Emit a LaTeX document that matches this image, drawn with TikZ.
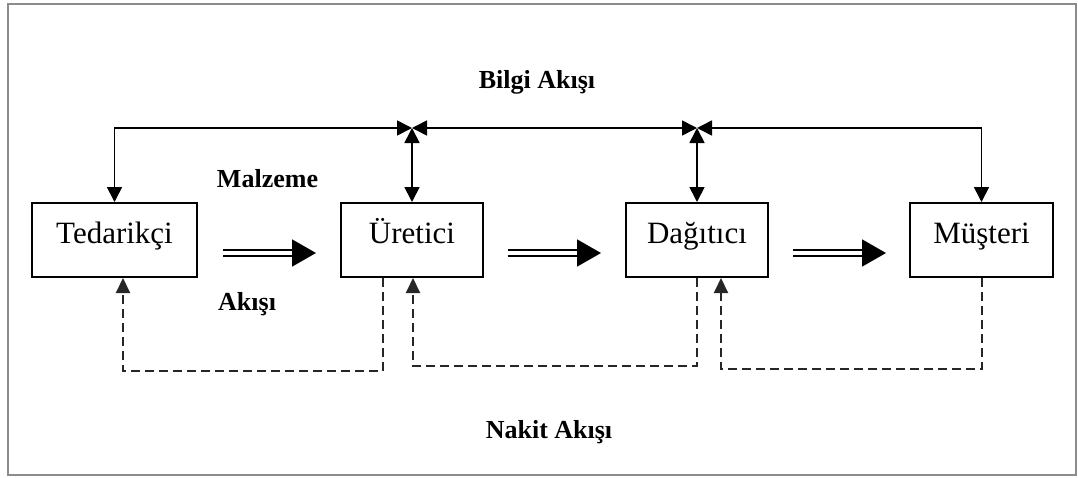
\documentclass[tikz,border=0pt]{standalone}
\usepackage{fontspec}
\setmainfont{Liberation Serif}
\usetikzlibrary{arrows.meta,calc}
\begin{document}
\begin{tikzpicture}[x=1pt,y=-1pt,
  box/.style={draw,line width=2pt,minimum width=#1,text height=40pt,text depth=34pt,inner sep=0pt,font=\fontsize{31}{36}\selectfont},
  lbl/.style={font=\bfseries\fontsize{26}{30}\selectfont,inner sep=0pt},
  info/.style={line width=1.7pt,{Triangle[length=15pt,width=15pt]}-{Triangle[length=15pt,width=15pt]}},
  cash/.style={line width=2pt,black!85,dash pattern=on 9pt off 5pt,-{Triangle[length=15pt,width=14pt]}},
  mat/.style={line width=1.8pt,double=white,double distance=3.5pt,-{Triangle[length=24pt,width=27pt]}},
  frame/.style={draw=black!45,line width=2.5pt}]
\useasboundingbox (0,0) rectangle (1078,477);
\draw[frame] (8,4) rectangle (1076,475);

\node[box=165pt] (ted) at (114.5,240) {Tedarik\c{c}i};
\node[box=142pt] (ure) at (412,240) {Üretici};
\node[box=142pt] (dag) at (697,240) {Dağıtıcı};
\node[box=143pt] (mus) at (981.5,240) {Müşteri};

\coordinate (J1) at (412,128);
\coordinate (J2) at (697,128);

% information flow
\draw[info] (J1) -- (ted.north |- J1) -- (ted.north);
\draw[info] (J1) -- (J2);
\draw[info] (J2) -- (mus.north |- J2) -- (mus.north);
\draw[info] (J1) -- (ure.north);
\draw[info] (J2) -- (dag.north);

% material flow
\draw[mat] ([xshift=25pt,yshift=-13pt]ted.east) -- ([xshift=-24pt,yshift=-13pt]ure.west);
\draw[mat] ([xshift=24pt,yshift=-13pt]ure.east) -- ([xshift=-24pt,yshift=-13pt]dag.west);
\draw[mat] ([xshift=24pt,yshift=-13pt]dag.east) -- ([xshift=-23pt,yshift=-13pt]mus.west);

% cash flow
\draw[cash] ([xshift=-29pt]ure.south) -- ++(0,93) -| ([xshift=8.5pt]ted.south);
\draw[cash] (dag.south) -- ++(0,88) -| ([xshift=1pt]ure.south);
\draw[cash] (mus.south) -- ++(0,91) -| ([xshift=24pt]dag.south);

% labels
\node[lbl,anchor=base] (bilgi) at (537,88) {Bilgi Akışı};
\node[lbl,anchor=base] (malz) at (267.5,187) {Malzeme};
\node[lbl,anchor=base west] (akis) at (218,310) {Akışı};
\node[lbl,anchor=base] (nakit) at (549,438) {Nakit Akışı};
\end{tikzpicture}
\end{document}
